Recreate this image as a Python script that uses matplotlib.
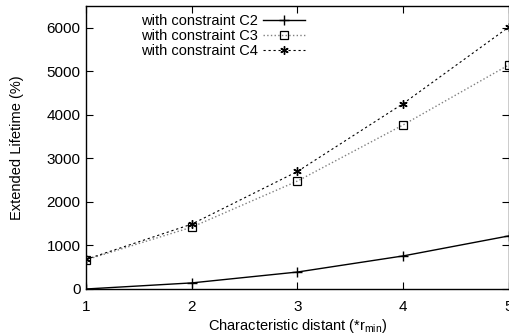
import matplotlib
matplotlib.use("Agg")
import matplotlib.pyplot as plt

plt.rcParams['font.family'] = ['Liberation Sans', 'DejaVu Sans']

x = [1, 2, 3, 4, 5]
c2 = [0, 140, 390, 760, 1220]
c3 = [670, 1420, 2480, 3770, 5150]
c4 = [680, 1490, 2700, 4260, 6020]
labels = ['with constraint C2', 'with constraint C3', 'with constraint C4']

fig = plt.figure(figsize=(5.10, 3.34), dpi=100)
ax = fig.add_axes([86/510, 45/334, 423/510, 283/334])

ax.plot(x, c2, '-', color='black', lw=1.0, marker='+', ms=7, mew=1.0, label=labels[0])
ax.plot(x, c3, ':', color='#808080', lw=1.0, marker='s', ms=6, mfc='none', mec='black', mew=0.9, label=labels[1])
ax.plot(x, c4, '--', color='black', lw=0.8, dashes=(2, 2.5), marker=(6, 2, 0), ms=6, mew=1.0, label=labels[2])

ax.set_xlim(1, 5)
ax.set_ylim(0, 6500)
ax.set_xticks(x)
ax.set_yticks([0, 1000, 2000, 3000, 4000, 5000, 6000])
ax.tick_params(direction='in', length=5, width=0.8, top=True, right=True, labelsize=11)
ax.tick_params(axis='x', pad=8)
ax.tick_params(axis='y', pad=4)
for s in ax.spines.values():
    s.set_linewidth(1.0)

ax.set_xlabel('Characteristic distant (*r$_{\\mathregular{min}}$)', fontsize=10.5, labelpad=2)
ax.set_ylabel('Extended Lifetime (%)', fontsize=10.5, labelpad=16)

ax.legend(loc='upper right', bbox_to_anchor=(0.518, 0.972), frameon=False, markerfirst=False,
          fontsize=10.5, handlelength=2.9, handletextpad=0.35, labelspacing=0.08,
          borderaxespad=0, borderpad=0)

fig.savefig('out.png', dpi=100)
